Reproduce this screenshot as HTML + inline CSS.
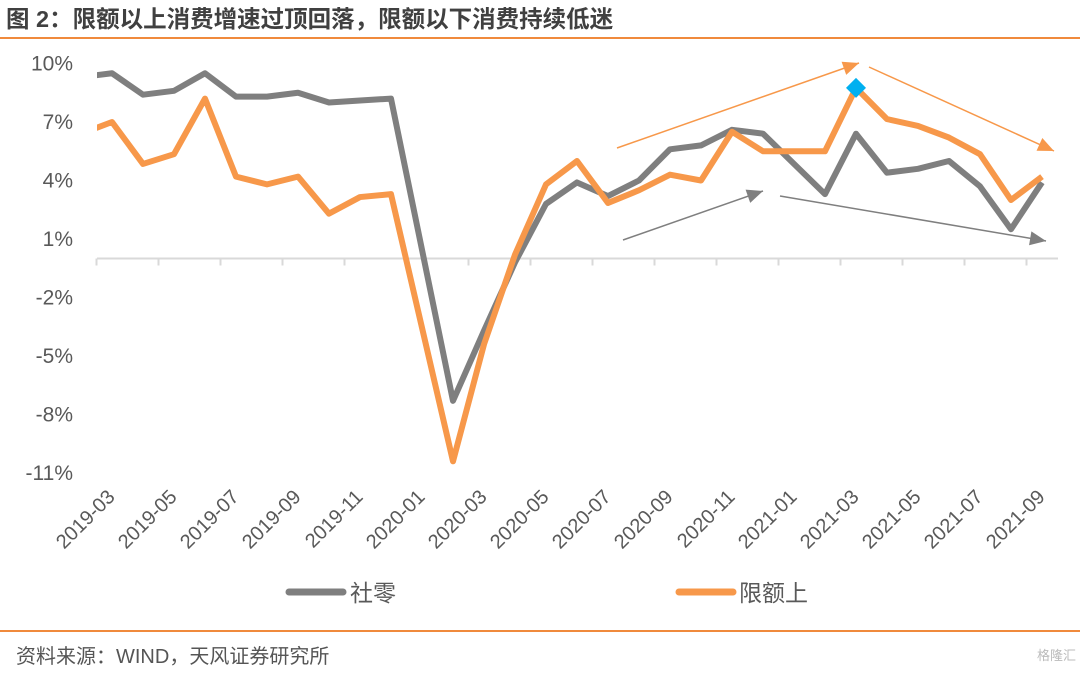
<!DOCTYPE html>
<html><head><meta charset="utf-8">
<style>
body{margin:0;background:#fff;width:1080px;height:668px;overflow:hidden;font-family:"Liberation Sans","Noto Sans CJK SC",sans-serif;}
</style></head>
<body>
<svg width="1080" height="668" viewBox="0 0 1080 668" xmlns="http://www.w3.org/2000/svg">
<text x="6" y="27" font-size="23.5" font-weight="bold" fill="#404040" font-family="Liberation Sans, Noto Sans CJK SC, sans-serif">图 2：限额以上消费增速过顶回落，限额以下消费持续低迷</text>
<line x1="0" y1="38" x2="1080" y2="38" stroke="#f08a3c" stroke-width="2"/>
<line x1="0" y1="631" x2="1080" y2="631" stroke="#f08a3c" stroke-width="2"/>
<text x="16" y="663" font-size="20" fill="#555" font-family="Liberation Sans, Noto Sans CJK SC, sans-serif">资料来源：WIND，天风证券研究所</text>
<text x="1076" y="660" font-size="13" fill="#bbb" text-anchor="end" font-family="Liberation Sans, Noto Sans CJK SC, sans-serif">格隆汇</text>
<g id="plot"></g>
</svg>
<script>
const categories=["2019-02","2019-03","2019-04","2019-05","2019-06","2019-07","2019-08","2019-09","2019-10","2019-11","2019-12","2020-01","2020-02","2020-03","2020-04","2020-05","2020-06","2020-07","2020-08","2020-09","2020-10","2020-11","2020-12","2021-01","2021-02","2021-03","2021-04","2021-05","2021-06","2021-07","2021-08","2021-09"];
const retailTotal=[9.3,9.5,8.4,8.6,9.5,8.3,8.3,8.5,8.0,8.1,8.2,null,-7.3,-3.7,-0.2,2.8,3.9,3.2,4.0,5.6,5.8,6.6,6.4,null,3.3,6.4,4.4,4.6,5.0,3.7,1.5,3.9];
const aboveQuota=[6.4,7.0,4.85,5.35,8.2,4.2,3.8,4.2,2.3,3.15,3.3,null,-10.4,-4.4,0.2,3.8,5.0,2.85,3.5,4.3,4.0,6.5,5.5,null,5.5,8.75,7.15,6.8,6.2,5.35,3.0,4.2];
const yTicks=[10,7,4,1,-2,-5,-8,-11];
const xLabels=["2019-03","2019-05","2019-07","2019-09","2019-11","2020-01","2020-03","2020-05","2020-07","2020-09","2020-11","2021-01","2021-03","2021-05","2021-07","2021-09"];
const highlightCat="2021-03";

const NS="http://www.w3.org/2000/svg";
const g=document.getElementById('plot');
const X0=97,XEND=1058;
function xs(i){return 81+31*i;}
function ys(v){return 258.5-19.5*v;}
function mk(t,a){const e=document.createElementNS(NS,t);for(const k in a)e.setAttribute(k,a[k]);g.appendChild(e);return e;}
const defs=mk('defs',{});
const cp=document.createElementNS(NS,'clipPath');cp.setAttribute('id','cl');
const r=document.createElementNS(NS,'rect');r.setAttribute('x',X0);r.setAttribute('y',40);r.setAttribute('width',XEND-X0);r.setAttribute('height',460);
cp.appendChild(r);defs.appendChild(cp);
yTicks.forEach(v=>{
 const t=mk('text',{x:73,y:ys(v)+7,'font-size':21,fill:'#595959','text-anchor':'end'});
 
 
 t.textContent=v+'%';
});
const ax=mk('line',{x1:X0,y1:ys(0),x2:XEND,y2:ys(0),stroke:'#d9d9d9','stroke-width':2});


for(let i=1;i<categories.length;i+=2){
 const x=xs(i)-15.5;
 const tk=mk('line',{x1:x,y1:ys(0),x2:x,y2:ys(0)+7,stroke:'#d9d9d9','stroke-width':2});
 
 
}
xLabels.forEach(l=>{
 const i=categories.indexOf(l);const x=xs(i)+4,y=498;
 const t=mk('text',{x:x,y:y,'font-size':20,fill:'#595959','text-anchor':'end',transform:`rotate(-45 ${x} ${y})`});
 
 
 t.textContent=l;
});
function path(arr){let d='';arr.forEach((v,i)=>{if(v===null)return;d+=(d?'L':'M')+xs(i)+','+ys(v);});return d;}
const gl=mk('path',{d:path(retailTotal),fill:'none',stroke:'#7f7f7f','stroke-width':6,'stroke-linejoin':'round','clip-path':'url(#cl)'});


const ol=mk('path',{d:path(aboveQuota),fill:'none',stroke:'#f7984a','stroke-width':6,'stroke-linejoin':'round','clip-path':'url(#cl)'});


const hi=categories.indexOf(highlightCat);
const hx=xs(hi),hy=ys(aboveQuota[hi]);
const dm=mk('polygon',{points:`${hx},${hy-10} ${hx+10},${hy} ${hx},${hy+10} ${hx-10},${hy}`,fill:'#00b0f0'});


function arrow(x1,y1,x2,y2,c,w,name){
 const ln=mk('line',{x1,y1,x2,y2,stroke:c,'stroke-width':w});
 
 
 const a=Math.atan2(y2-y1,x2-x1),L=16,W=7;
 const bx=x2-L*Math.cos(a),by=y2-L*Math.sin(a);
 const p=mk('polygon',{points:`${x2},${y2} ${bx+W*Math.sin(a)},${by-W*Math.cos(a)} ${bx-W*Math.sin(a)},${by+W*Math.cos(a)}`,fill:c});
 
 
}
arrow(617,148,859,63,'#f7984a',1.5,'trend-arrow-orange-up');
arrow(869,67,1054,151,'#f7984a',1.5,'trend-arrow-orange-down');
arrow(623,240,763,191,'#7f7f7f',1.5,'trend-arrow-gray-up');
arrow(780,196,1046,241,'#7f7f7f',1.5,'trend-arrow-gray-down');
const l1=mk('line',{x1:289,y1:592,x2:343,y2:592,stroke:'#7f7f7f','stroke-width':7,'stroke-linecap':'round'});


const t1=mk('text',{x:350,y:601,'font-size':23,fill:'#595959'});


t1.textContent='社零';
const l2=mk('line',{x1:679,y1:592,x2:733,y2:592,stroke:'#f7984a','stroke-width':7,'stroke-linecap':'round'});


const t2=mk('text',{x:739,y:601,'font-size':23,fill:'#595959'});


t2.textContent='限额上';
</script>
</body></html>
